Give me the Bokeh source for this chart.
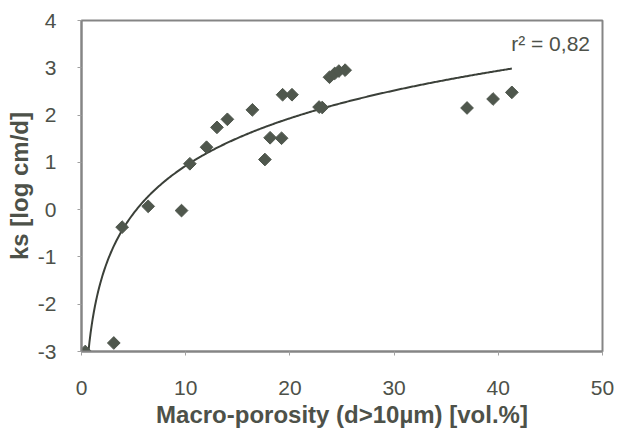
import numpy as np
from bokeh.plotting import figure
from bokeh.models import Range1d, Label, FixedTicker, ColumnDataSource
from bokeh.embed import file_html
from bokeh.resources import INLINE

# ---- data ----
macro_porosity = [0.36, 3.1, 3.9, 6.4, 9.6, 10.4, 12.0, 13.0, 14.0, 16.4, 17.6, 18.1,
                  19.2, 19.3, 20.2, 22.8, 23.1, 23.8, 24.3, 24.7, 25.3, 37.0, 39.5, 41.3]
log_ks = [-3.0, -2.82, -0.37, 0.07, -0.02, 0.97, 1.32, 1.74, 1.91, 2.11, 1.06, 1.52,
          1.51, 2.43, 2.43, 2.17, 2.16, 2.80, 2.88, 2.93, 2.95, 2.15, 2.34, 2.48]
x_ticks = [0, 10, 20, 30, 40, 50]
y_ticks = [-3, -2, -1, 0, 1, 2, 3, 4]
r2_text = "r² = 0,82"
x_title = "Macro-porosity (d>10µm) [vol.%]"
y_title = "ks [log cm/d]"

# logarithmic trend line fitted to the points (as a spreadsheet trendline)
xa = np.array(macro_porosity)
ya = np.array(log_ks)
slope, intercept = np.polyfit(np.log(xa), ya, 1)
trend_x = np.linspace(xa.min(), xa.max(), 400)
trend_y = slope * np.log(trend_x) + intercept

FONT = "Liberation Sans"
TXT = "#4d5149"
GREY = "#858585"
MARK = "#4f574d"

p = figure(width=617, height=433, output_backend="svg", toolbar_location=None,
           x_range=Range1d(0, 50), y_range=Range1d(-3, 4),
           min_border_left=81, min_border_right=15, min_border_top=20, min_border_bottom=82)
p.background_fill_color = "white"
p.border_fill_color = "white"
p.outline_line_color = GREY
p.outline_line_width = 2
p.xgrid.visible = False
p.ygrid.visible = False

p.line(trend_x, trend_y, line_color="#3b4039", line_width=2)
src = ColumnDataSource(dict(x=macro_porosity, y=log_ks))
p.scatter("x", "y", source=src, marker="square", angle=np.pi / 4, size=9,
          fill_color=MARK, line_color=MARK, line_width=1)

for ax in (p.xaxis[0], p.yaxis[0]):
    ax.axis_line_color = GREY
    ax.axis_line_width = 2
    ax.major_tick_line_color = "#a0a0a0"
    ax.major_tick_out = 4
    ax.major_tick_in = 0
    ax.minor_tick_line_color = None
    ax.major_label_text_font = FONT
    ax.major_label_text_font_size = "21px"
    ax.major_label_text_color = TXT
    ax.axis_label_text_font = FONT
    ax.axis_label_text_font_size = "24px"
    ax.axis_label_text_font_style = "bold"
    ax.axis_label_text_color = TXT

p.xaxis.ticker = FixedTicker(ticks=x_ticks)
p.yaxis.ticker = FixedTicker(ticks=y_ticks)
p.yaxis.major_label_overrides = {t: str(t) for t in y_ticks}
p.xaxis.major_label_overrides = {t: str(t) for t in x_ticks}
p.xaxis.axis_label = x_title
p.yaxis.axis_label = y_title
p.xaxis.major_label_standoff = 25
p.xaxis.axis_label_standoff = 3
p.yaxis.major_label_standoff = 21
p.yaxis.axis_label_standoff = 2

p.add_layout(Label(x=48.8, y=3.51, text=r2_text, text_align="right",
                   text_baseline="middle", text_font=FONT, text_font_size="21px",
                   text_color=TXT))

open("out.html", "w").write(file_html(p, INLINE))
